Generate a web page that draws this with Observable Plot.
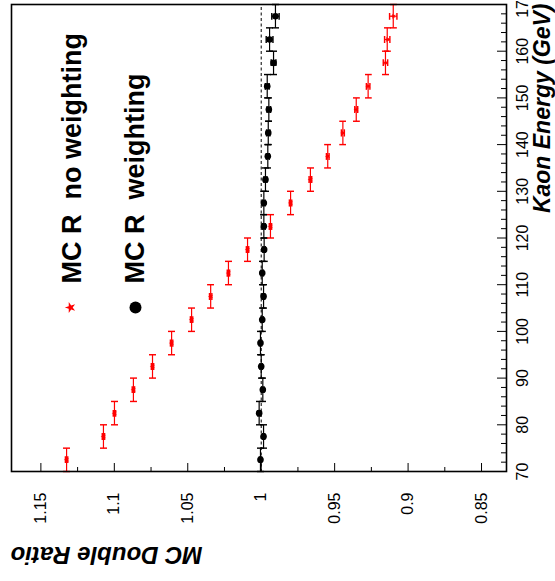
<!DOCTYPE html>
<html>
<head>
<meta charset="utf-8">
<script src="https://cdn.jsdelivr.net/npm/d3@7"></script>
<script src="https://cdn.jsdelivr.net/npm/@observablehq/plot@0.6"></script>
<style>
  html, body { margin: 0; padding: 0; background: #fff; }
  #wrap { position: relative; width: 555px; height: 581px; overflow: hidden; background: #fff; }
  #wrap svg { position: absolute; left: 0; top: 0; width: 581px !important; height: 555px !important;
              max-width: none !important; transform-origin: 0 0;
              transform: translate(0px, 581px) rotate(-90deg); overflow: visible; }
</style>
</head>
<body>
<div id="wrap"></div>
<script>
// ---- data ----
const energies = [72.5, 77.5, 82.5, 87.5, 92.5, 97.5, 102.5, 107.5, 112.5, 117.5,
                  122.5, 127.5, 132.5, 137.5, 142.5, 147.5, 152.5, 157.5, 162.5, 167.5];
const binHalfWidth = 2.5;
const ratioNoWeighting = [1.1325, 1.1074, 1.0999, 1.087, 1.074, 1.061, 1.0474, 1.0344, 1.0223, 1.0093,
                          0.9937, 0.980, 0.9665, 0.9547, 0.9444, 0.9353, 0.9272, 0.9154, 0.9142, 0.9101];
const errNoWeighting = [0.0008, 0.0008, 0.0008, 0.0008, 0.0008, 0.0008, 0.0008, 0.0008, 0.0008, 0.0008,
                        0.0008, 0.0008, 0.0009, 0.0009, 0.001, 0.001, 0.0012, 0.0015, 0.0018, 0.0025];
const ratioWeighting = [1.0005, 0.9984, 1.0014, 0.9989, 1.0, 1.0005, 0.9993, 0.9984, 0.9993, 0.998,
                        0.9982, 0.9982, 0.9971, 0.9955, 0.9952, 0.9948, 0.9959, 0.9916, 0.9943, 0.9903];
const errWeighting = [0.0008, 0.0008, 0.0008, 0.0008, 0.0008, 0.0008, 0.0008, 0.0008, 0.0008, 0.0008,
                      0.0009, 0.0009, 0.001, 0.001, 0.0011, 0.0012, 0.0013, 0.0016, 0.0023, 0.0025];
const energyTicks = [70, 80, 90, 100, 110, 120, 130, 140, 150, 160, 170];
const energyMinorTicks = d3.range(72, 170, 2).filter(v => v % 10 !== 0);
const ratioTicks = [0.85, 0.9, 0.95, 1, 1.05, 1.1, 1.15];
const ratioMinorTicks = [0.875, 0.925, 0.975, 1.025, 1.075, 1.125];
const referenceRatio = [1];
const seriesLabels = ["MC R\u00a0\u00a0no weighting", "MC R\u00a0\u00a0weighting"];
const seriesColors = ["#ff0000", "#000000"];
const xTitle = "Kaon Energy (GeV)";
const yTitle = "MC Double Ratio";

// ---- build rows ----
function rows(vals, errs) {
  return energies.map((e, i) => ({
    e, lo: e - binHalfWidth, hi: e + binHalfWidth,
    v: vals[i], vlo: vals[i] - errs[i], vhi: vals[i] + errs[i]
  }));
}
const noW = rows(ratioNoWeighting, errNoWeighting);
const withW = rows(ratioWeighting, errWeighting);

const font = "'Liberation Sans', Arial, Helvetica, sans-serif";
const fmt = d3.format("~g");

function seriesMarks(data, color, symbol, r) {
  return [
    Plot.link(data, {x1: "lo", x2: "hi", y1: "v", y2: "v", stroke: color, strokeWidth: 1.2,
                     markerStart: "tick", markerEnd: "tick"}),
    Plot.link(data, {x1: "e", x2: "e", y1: "vlo", y2: "vhi", stroke: color, strokeWidth: 1.2,
                     markerStart: "tick", markerEnd: "tick"}),
    Plot.dot(data, {x: "e", y: "v", symbol, r, fill: color, stroke: "none"})
  ];
}

const chart = Plot.plot({
  width: 581,
  height: 555,
  marginLeft: 109,
  marginRight: 5,
  marginTop: 11,
  marginBottom: 49,
  style: {fontFamily: font, fontSize: "16px", background: "white", color: "black", overflow: "visible"},
  x: {domain: [70, 170]},
  y: {domain: [0.833, 1.17]},
  marks: [
    Plot.ruleY(referenceRatio, {stroke: "black", strokeWidth: 1, strokeDasharray: "3,2.5"}),
    ...seriesMarks(withW, seriesColors[1], "circle", 3.3),
    ...seriesMarks(noW, seriesColors[0], "star", 1.7),
    // energy axis
    Plot.axisX(energyTicks, {anchor: "bottom", tickSize: -9, tickFormat: () => "", label: null}),
    Plot.axisX(energyMinorTicks, {anchor: "bottom", tickSize: -5, tickFormat: () => "", label: null}),
    Plot.axisX(energyTicks, {anchor: "bottom", tickSize: 0, tickPadding: 10, fontSize: 16,
                             tickFormat: d => String(d), label: null}),
    // ratio axis
    Plot.axisY(ratioTicks, {anchor: "left", tickSize: -9, tickFormat: () => "", label: null}),
    Plot.axisY(ratioMinorTicks, {anchor: "left", tickSize: -5, tickFormat: () => "", label: null}),
    Plot.axisY(ratioTicks, {anchor: "left", tickSize: 0, tickPadding: 21, fontSize: 16,
                            tickFormat: d => fmt(d), label: null}),
    Plot.frame({stroke: "black", strokeWidth: 1.6}),
    // axis titles
    Plot.text([xTitle], {frameAnchor: "bottom-right", text: d => d, dx: 1, dy: 36,
                         textAnchor: "end", lineAnchor: "middle", fontSize: 23,
                         fontWeight: "bold", fontStyle: "italic"}),
    Plot.text([yTitle], {frameAnchor: "top-left", text: d => d, dx: -83, dy: -1, rotate: -90,
                         textAnchor: "end", lineAnchor: "middle", fontSize: 24,
                         fontWeight: "bold", fontStyle: "italic"}),
    // legend
    Plot.dot([0], {frameAnchor: "top-left", dx: 164, dy: 59, symbol: "star", r: 3.4, fill: seriesColors[0]}),
    Plot.dot([0], {frameAnchor: "top-left", dx: 164, dy: 124, symbol: "circle", r: 6, fill: seriesColors[1]}),
    Plot.text([seriesLabels[0]], {frameAnchor: "top-left", text: d => d, dx: 188, dy: 61,
                                  textAnchor: "start", lineAnchor: "middle", fontSize: 27, fontWeight: "bold"}),
    Plot.text([seriesLabels[1]], {frameAnchor: "top-left", text: d => d, dx: 188, dy: 124,
                                  textAnchor: "start", lineAnchor: "middle", fontSize: 27, fontWeight: "bold"})
  ]
});
document.getElementById("wrap").appendChild(chart);
</script>
</body>
</html>
